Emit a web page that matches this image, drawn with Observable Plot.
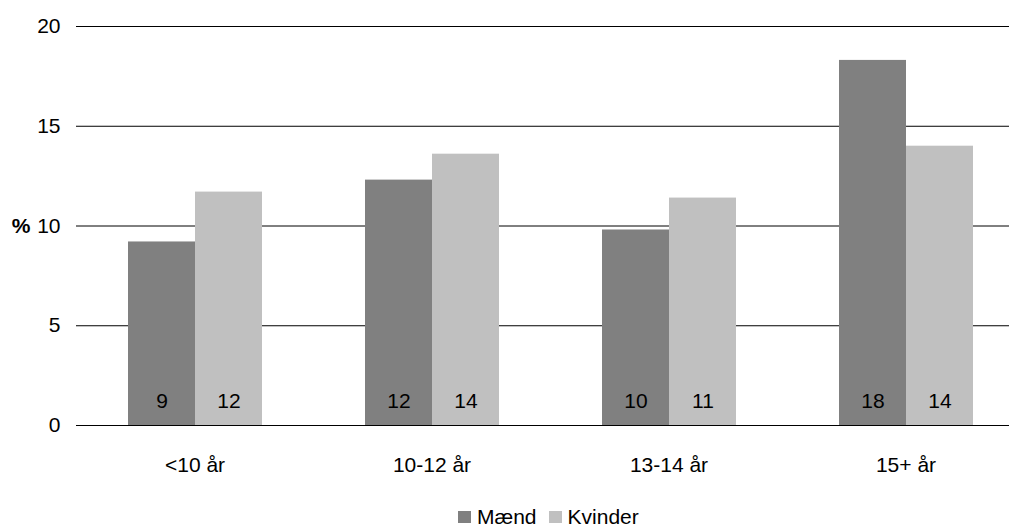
<!DOCTYPE html>
<html>
<head>
<meta charset="utf-8">
<script src="https://cdn.jsdelivr.net/npm/d3@7"></script>
<script src="https://cdn.jsdelivr.net/npm/@observablehq/plot@0.6"></script>
<style>
  body { margin: 0; background: #fff; font-family: "Liberation Sans", Arial, sans-serif; }
  #legend { display: flex; align-items: center; padding-left: 458px; margin-top: 6px; height: 22px; font-size: 21px; line-height: 22px; color: #000; }
  #legend .sw { width: 13px; height: 12px; display: inline-block; margin-right: 6px; }
  #legend .item { display: flex; align-items: center; margin-right: 12px; }
</style>
</head>
<body>
<div id="chart"></div>
<div id="legend"></div>
<script>
const categories = ["<10 år", "10-12 år", "13-14 år", "15+ år"];
const series = ["Mænd", "Kvinder"];
const maend = [9.2, 12.3, 9.8, 18.3];
const kvinder = [11.7, 13.6, 11.4, 14.0];
const colors = ["#808080", "#c0c0c0"];
const yTicks = [0, 5, 10, 15, 20];

const data = [];
categories.forEach((c, i) => {
  data.push({cat: c, sex: series[0], value: maend[i]});
  data.push({cat: c, sex: series[1], value: kvinder[i]});
});

const chart = Plot.plot({
  width: 1009,
  height: 500,
  marginLeft: 76,
  marginRight: 0,
  marginTop: 26,
  marginBottom: 75,
  style: {fontFamily: "'Liberation Sans', Arial, sans-serif", fontSize: "21px", color: "#000", background: "#fff"},
  fx: {domain: categories, range: [76, 1024], padding: 0, label: null},
  x: {domain: series, paddingInner: 0, paddingOuter: 0.743, axis: null},
  y: {domain: [0, 20], label: null},
  color: {domain: series, range: colors},
  marks: [
    Plot.ruleY(yTicks, {stroke: "#000", strokeWidth: 1}),
    Plot.barY(data, {fx: "cat", x: "sex", y: "value", fill: "sex"}),
    Plot.text(data, {fx: "cat", x: "sex", y: 0, text: d => Math.round(d.value), dy: -24, fontSize: 21, fill: "#000"}),
    Plot.axisY({ticks: yTicks, tickSize: 0, tickPadding: 16, label: null, fontSize: 21}),
    Plot.text([{cat: categories[0], t: "%"}], {fx: "cat", y: () => 10, text: "t", frameAnchor: "left", textAnchor: "end", dx: -46, fontWeight: "bold", fontSize: 21}),
    Plot.axisFx({anchor: "bottom", tickSize: 0, tickPadding: 32, label: null, fontSize: 21})
  ]
});
document.getElementById("chart").appendChild(chart);

const legend = document.getElementById("legend");
series.forEach((s, i) => {
  const item = document.createElement("span");
  item.className = "item";
  const sw = document.createElement("span");
  sw.className = "sw";
  sw.style.background = colors[i];
  item.appendChild(sw);
  item.appendChild(document.createTextNode(s));
  legend.appendChild(item);
});
</script>
</body>
</html>
